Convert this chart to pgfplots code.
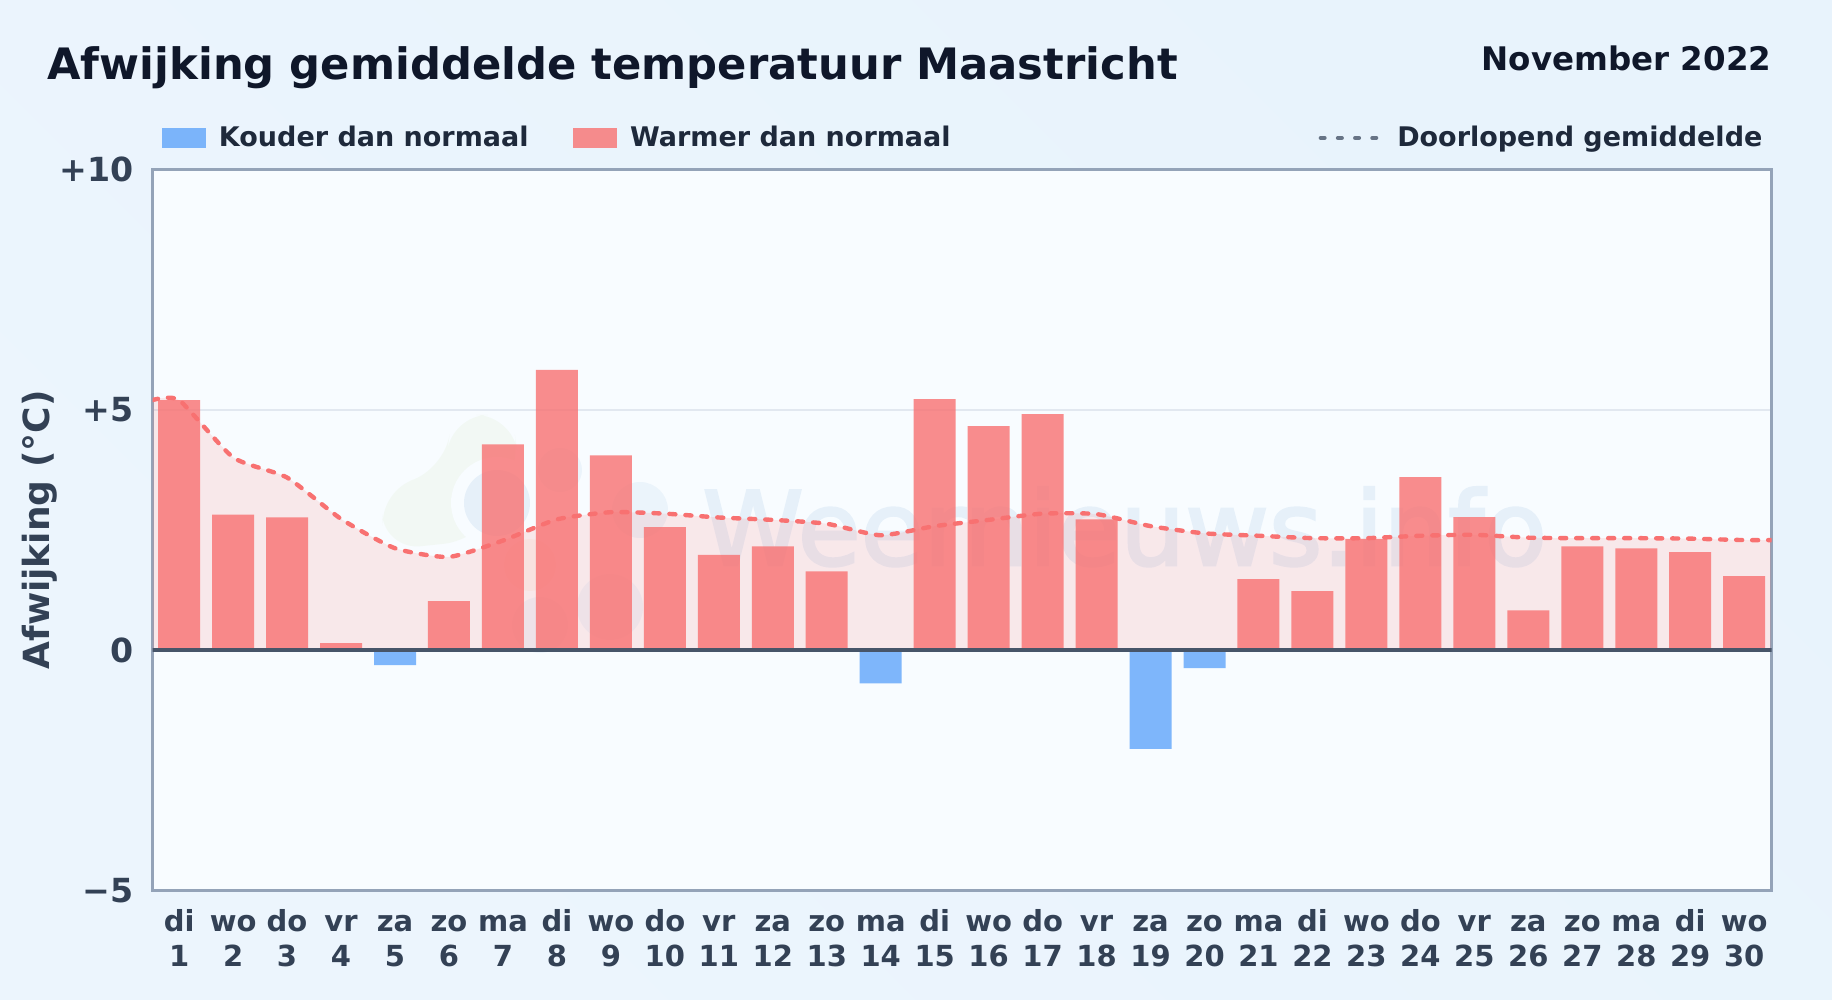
\documentclass[border=0pt]{standalone}
\usepackage{pgfplots}
\pgfplotsset{compat=1.18}
\usepackage{fontspec}
\setmainfont{DejaVu Sans}
\newfontfamily\wmfont{DejaVu Sans}[FakeBold=2.5]
\definecolor{bgA}{HTML}{ECF5FD}
\definecolor{bgB}{HTML}{E8F3FC}
\definecolor{plotbg}{HTML}{F8FCFF}
\definecolor{frame}{HTML}{94A3B8}
\definecolor{zeroline}{HTML}{475569}
\definecolor{ticktxt}{HTML}{334155}
\definecolor{titletxt}{HTML}{0F172A}
\definecolor{legtxt}{HTML}{1E293B}
\definecolor{warm}{HTML}{F87171}
\definecolor{cold}{HTML}{60A5FA}
\definecolor{gridc}{HTML}{E2E8F0}
\definecolor{wm}{HTML}{4A8ECD}
\definecolor{wmg}{HTML}{B8D88A}
\newcommand{\tl}[2]{\rule{0pt}{11pt}#1\\#2}
\pgfplotstableread{
x y
1 5.20
2 2.82
3 2.76
4 0.15
6 1.02
7 4.28
8 5.83
9 4.05
10 2.56
11 1.98
12 2.16
13 1.64
15 5.22
16 4.66
17 4.91
18 2.72
21 1.48
22 1.23
23 2.31
24 3.60
25 2.77
26 0.83
27 2.16
28 2.12
29 2.04
30 1.54
}\warmtable
\pgfplotstableread{
x y
5 -0.31
14 -0.69
19 -2.05
20 -0.37
}\coldtable
\pgfplotstableread{
x y
0.5 5.20
1 5.20
2 4.01
3 3.59
4 2.73
5 2.12
6 1.94
7 2.28
8 2.72
9 2.87
10 2.84
11 2.76
12 2.71
13 2.63
14 2.39
15 2.58
16 2.71
17 2.84
18 2.83
19 2.58
20 2.43
21 2.38
22 2.33
23 2.33
24 2.38
25 2.40
26 2.34
27 2.33
28 2.33
29 2.32
30 2.29
30.5 2.29
}\meantable
\begin{document}
\begin{tikzpicture}
\useasboundingbox (0,0) rectangle (916pt,500pt);
\fill[left color=bgA,right color=bgB,shading angle=135] (0,0) rectangle (916pt,500pt);
\node[anchor=base west,inner sep=0pt,text=titletxt,font=\fontsize{21.64}{26}\selectfont\bfseries] at (23.5pt,460.3pt) {Afwijking gemiddelde temperatuur Maastricht};
\node[anchor=base east,inner sep=0pt,text=titletxt,font=\fontsize{16.24}{19}\selectfont\bfseries] at (885.8pt,464.5pt) {November 2022};
\fill[plotbg] (76.35pt,54.65pt) rectangle (885.85pt,415.35pt);
% watermark, in reference pixels
\begin{scope}[x=0.5pt,y=-0.5pt,yshift=500pt]
  \fill[wmg,opacity=0.09,rounded corners=18pt] (452,415) -- (512,415) -- (520,470) -- (480,540) -- (385,550) -- (380,490) -- (445,470) -- cycle;
  \fill[plotbg] (497,503) circle (46);
  \fill[wm,opacity=0.10] (497,503) circle (33);
  \fill[wm,opacity=0.07] (560,470) circle (22);
  \fill[wm,opacity=0.07] (640,510) circle (28);
  \fill[wm,opacity=0.06] (610,607) circle (33);
  \fill[wm,opacity=0.06] (540,625) circle (28);
  \fill[orange,opacity=0.05] (530,565) circle (26);
  \begin{scope}[transparency group,opacity=0.10]
    \node[anchor=base west,inner sep=0pt,text=wm,font=\fontsize{51.2}{60}\selectfont\wmfont] at (702,565) {Weernieuws.info};
  \end{scope}
\end{scope}
\begin{axis}[
  at={(76.35pt,54.65pt)},anchor=south west,
  scale only axis,width=809.5pt,height=360.7pt,
  xmin=0.51,xmax=30.51,ymin=-5,ymax=10,
  axis line style={frame,line width=1.5pt},
  major tick length=0pt,
  xtick={1,...,30},
  xticklabels={{\tl{di}{1}},{\tl{wo}{2}},{\tl{do}{3}},{\tl{vr}{4}},{\tl{za}{5}},{\tl{zo}{6}},{\tl{ma}{7}},{\tl{di}{8}},{\tl{wo}{9}},{\tl{do}{10}},{\tl{vr}{11}},{\tl{za}{12}},{\tl{zo}{13}},{\tl{ma}{14}},{\tl{di}{15}},{\tl{wo}{16}},{\tl{do}{17}},{\tl{vr}{18}},{\tl{za}{19}},{\tl{zo}{20}},{\tl{ma}{21}},{\tl{di}{22}},{\tl{wo}{23}},{\tl{do}{24}},{\tl{vr}{25}},{\tl{za}{26}},{\tl{zo}{27}},{\tl{ma}{28}},{\tl{di}{29}},{\tl{wo}{30}}},
  x tick label style={align=center,text=ticktxt,font=\fontsize{14.5}{17.5}\selectfont\bfseries,yshift=-5.8pt},
  ytick={-5,0,5,10},
  yticklabels={−5,0,+5,+10},
  y tick label style={text=ticktxt,font=\fontsize{16.6}{20}\selectfont\bfseries,xshift=-6pt},
  ymajorgrids,
  grid style={gridc,line width=0.75pt},
  ylabel={Afwijking (°C)},
  every axis y label/.style={at={(axis description cs:-0.0698,0.5)},rotate=90,anchor=center},
  ylabel style={text=ticktxt,font=\fontsize{18}{21}\selectfont\bfseries},
  ybar,bar width=21pt,bar shift=0pt,
  legend style={at={(0,1)},anchor=south west,xshift=4.7pt,yshift=7.8pt,draw=none,fill=none,
    font=\fontsize{13.5}{16}\selectfont\bfseries,text=legtxt,
    legend columns=3,inner sep=0pt,outer sep=0pt,
    /tikz/column 1/.style={column sep=4.7pt},
    /tikz/column 3/.style={column sep=4.7pt},
    /tikz/column 5/.style={column sep=4.7pt},
    /tikz/column 2/.style={column sep=20.3pt},
    /tikz/column 4/.style={column sep=182pt}},
  legend cell align=left,
]
\addplot[sharp plot,draw=none,fill=warm,fill opacity=0.14,smooth,tension=0.35,forget plot] table {\meantable} \closedcycle;
\addplot[fill=cold,fill opacity=0.8,draw=none,area legend,
  legend image code/.code={\fill[cold,opacity=0.8] (0,-4.8pt) rectangle (22pt,4.8pt);}] table {\coldtable};
\addplot[fill=warm,fill opacity=0.8,draw=none,area legend,
  legend image code/.code={\fill[warm,opacity=0.8] (0,-4.8pt) rectangle (22pt,4.8pt);}] table {\warmtable};
\addplot[sharp plot,warm,line width=2.2pt,line cap=round,dash pattern=on 3pt off 5pt,smooth,tension=0.35,
  legend image code/.code={\draw[zeroline,opacity=.8,line width=2pt,dash pattern=on 2pt off 6.6pt] (0,0) -- (28pt,0);\path (30.5pt,0);}] table {\meantable};
\addplot[sharp plot,zeroline,line width=2pt,forget plot] coordinates {(0.5,0) (30.6,0)};
\legend{Kouder dan normaal,Warmer dan normaal,Doorlopend gemiddelde}
\end{axis}
\end{tikzpicture}
\end{document}
